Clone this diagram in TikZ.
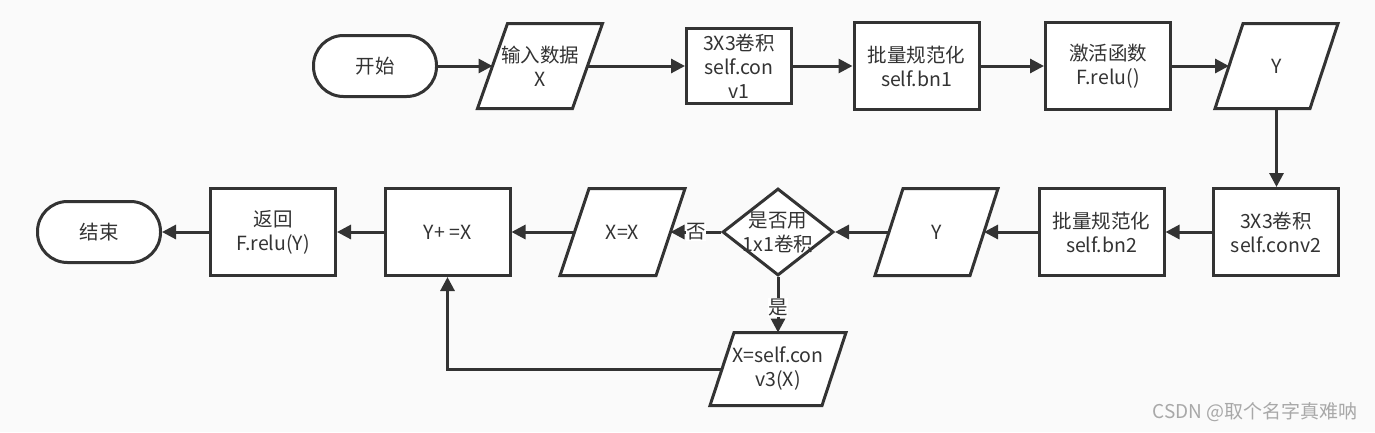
\documentclass[tikz,border=0pt]{standalone}
\usepackage{fontspec}
\setmainfont{Noto Sans CJK SC}
\usetikzlibrary{shapes.geometric,arrows.meta}
\definecolor{bg}{HTML}{FAFAFA}
\definecolor{lc}{HTML}{333333}
\definecolor{wm}{HTML}{A8A8A8}
\pgfdeclarelayer{bglayer}
\pgfdeclarelayer{shapes}
\pgfsetlayers{bglayer,shapes,main}
% draw a parallelogram behind the named node #1 with horizontal skew #2
\newcommand{\iodraw}[2]{%
  \begin{pgfonlayer}{shapes}
  \filldraw[draw=lc, fill=white, line width=3pt, line join=miter]
    ([xshift=#2/2]#1.north west) -- ([xshift=#2/2]#1.north east) --
    ([xshift=-#2/2]#1.south east) -- ([xshift=-#2/2]#1.south west) -- cycle;
  \end{pgfonlayer}}
\begin{document}
\begin{tikzpicture}[x=1pt,y=-1pt,
  txt/.style={text=lc, font=\fontsize{19.5}{24}\selectfont, align=center, inner sep=0pt},
  base/.style={txt, draw=lc, line width=3pt, fill=white},
  term/.style={base, rectangle, rounded corners=30pt, minimum width=123pt, minimum height=61pt},
  proc/.style={base, rectangle, minimum width=125pt, minimum height=87pt},
  io/.style={txt, rectangle, outer sep=0pt, minimum width=95pt, minimum height=87pt},
  dec/.style={base, diamond, minimum width=111pt, minimum height=87pt},
  conn/.style={draw=lc, line width=3pt, -{Triangle[length=14pt,width=14pt]}},
  lbl/.style={fill=white, text=lc, font=\fontsize{19.5}{22}\selectfont, inner sep=0.5pt}
]
\begin{pgfonlayer}{bglayer}
\fill[bg] (0,0) rectangle (1375,432);
\end{pgfonlayer}
\useasboundingbox (0,0) rectangle (1375,432);
% top row
\node[term] (stt) at (375,66) {开始};
\node[io, minimum height=85pt] (inp) at (540,66) {输入数据\\X};
\iodraw{inp}{30}
\node[proc, minimum width=105pt, minimum height=75pt] (conv1) at (739,66) {3X3卷积\\self.con\\v1};
\node[proc] (bn1) at (916.5,66) {批量规范化\\self.bn1};
\node[proc] (relu) at (1108,66) {激活函数\\F.relu()};
\node[io, minimum height=85pt] (y1) at (1276.5,66) {Y};
\iodraw{y1}{28}
% second row
\node[proc] (conv2) at (1276,232) {3X3卷积\\self.conv2};
\node[proc] (bn2) at (1101.5,232) {批量规范化\\self.bn2};
\node[io] (y2) at (936.5,232) {Y};
\iodraw{y2}{28}
\node[dec] (dia) at (778,232) {\makebox[0pt]{是否用}\\\makebox[0pt]{1x1卷积}};
\node[io, minimum width=96pt] (xx) at (622.5,232) {X=X};
\iodraw{xx}{29}
\node[proc] (yx) at (447.5,232) {Y+ =X};
\node[proc] (ret) at (273,232) {返回\\F.relu(Y)};
\node[term] (fin) at (99,232) {结束};
% third row
\node[io, minimum width=112pt, minimum height=73pt] (conv3) at (778,369) {\makebox[0pt]{X=self.con}\\v3(X)};
\iodraw{conv3}{24}
% watermark
\node[text=wm, font=\fontsize{19}{22}\selectfont, inner sep=0pt] (mark) at (1255,412) {CSDN @取个名字真难呐};
% connectors
\draw[conn] (stt) -- (inp);
\draw[conn] (inp) -- (conv1);
\draw[conn] (conv1) -- (bn1);
\draw[conn] (bn1) -- (relu);
\draw[conn] (relu) -- (y1);
\draw[conn] (y1.south) -- (y1.south |- conv2.north);
\draw[conn] (conv2) -- (bn2);
\draw[conn] (bn2) -- (y2);
\draw[conn] (y2) -- (dia);
\draw[conn] (dia) -- node[lbl]{否} (xx);
\draw[conn] (dia) -- node[lbl, pos=0.55]{是} (conv3);
\draw[conn] (xx) -- (yx);
\draw[conn] (conv3) -| (yx);
\draw[conn] (yx) -- (ret);
\draw[conn] (ret) -- (fin);
\end{tikzpicture}
\end{document}
